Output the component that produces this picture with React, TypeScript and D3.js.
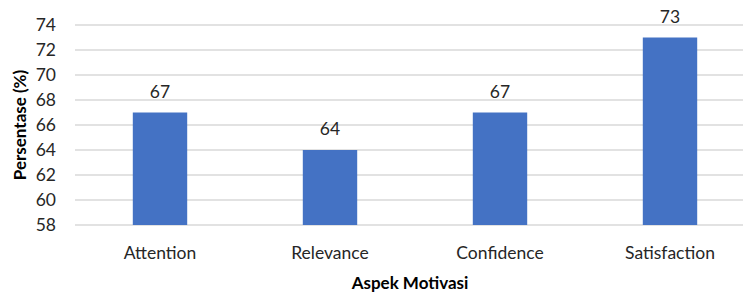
import React from "react";
import * as d3 from "d3";

const categories = ["Attention", "Relevance", "Confidence", "Satisfaction"];
const values = [67, 64, 67, 73];
const yTicks = [58, 60, 62, 64, 66, 68, 70, 72, 74];

const W = 743;
const H = 294;
const margin = { left: 75, right: -12, top: 25, bottom: 69 };
const font = "Lato, 'Open Sans', sans-serif";

export default function App() {
  const x = d3
    .scaleBand()
    .domain(categories)
    .range([margin.left, W - margin.right])
    .paddingInner(0.68)
    .paddingOuter(0.34);
  const y = d3
    .scaleLinear()
    .domain([58, 74])
    .range([H - margin.bottom, margin.top]);

  return (
    <div style={{ position: "absolute", left: 0, top: 0 }}>
      <svg width={W} height={H} style={{ display: "block", fontFamily: font }}>
        <rect width={W} height={H} fill="#fff" />
        {yTicks.map((t) => (
          <g key={t}>
            <line
              x1={margin.left}
              x2={W - margin.right}
              y1={y(t)}
              y2={y(t)}
              stroke="#d9d9d9"
              strokeWidth={1.3}
            />
            <text x={56} y={y(t)} dy="0.36em" textAnchor="end" fontSize={17.5} fill="#262626">
              {t}
            </text>
          </g>
        ))}
        {categories.map((c, i) => (
          <g key={c}>
            <rect
              x={x(c)}
              y={y(values[i])}
              width={x.bandwidth()}
              height={y(58) - y(values[i])}
              fill="#4472c4"
            />
            <text
              x={(x(c) as number) + x.bandwidth() / 2}
              y={y(values[i]) - 15}
              textAnchor="middle"
              fontSize={17.5}
              fill="#262626"
            >
              {values[i]}
            </text>
            <text
              x={(x(c) as number) + x.bandwidth() / 2}
              y={259}
              textAnchor="middle"
              fontSize={17.5}
              fill="#262626"
            >
              {c}
            </text>
          </g>
        ))}
        <text
          transform={`translate(26,${(margin.top + H - margin.bottom) / 2}) rotate(-90)`}
          textAnchor="middle"
          fontSize={17}
          fontWeight="bold"
          fill="#000"
        >
          Persentase (%)
        </text>
        <text x={410} y={289} textAnchor="middle" fontSize={17} fontWeight="bold" fill="#000">
          Aspek Motivasi
        </text>
      </svg>
    </div>
  );
}
